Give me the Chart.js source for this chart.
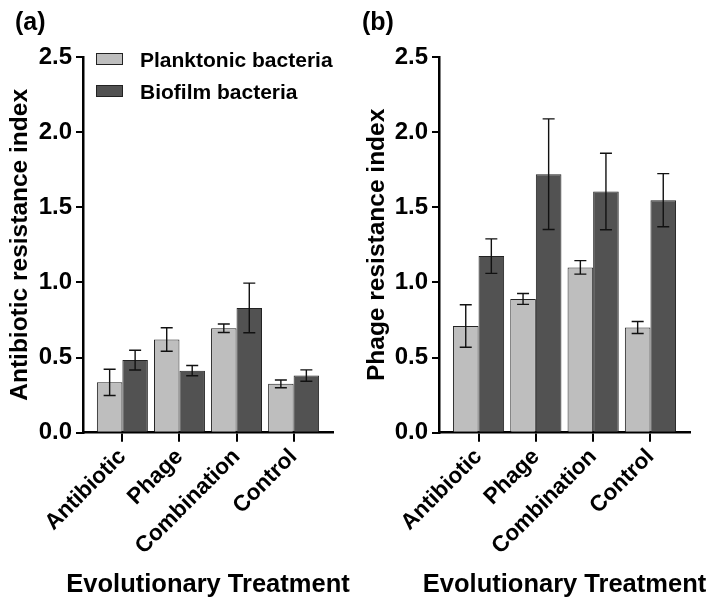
<!DOCTYPE html>
<html>
<head>
<meta charset="utf-8">
<script src="https://cdn.jsdelivr.net/npm/chart.js@4/dist/chart.umd.min.js"></script>
<style>
  body { margin: 0; background: #fff; }
  #wrap { position: relative; width: 709px; height: 601px; font-family: 'Liberation Sans', Arial, sans-serif; color: #000; }
  canvas { position: absolute; top: 0; }
  .panel { position: absolute; top: 9px; font-weight: bold; font-size: 25px; line-height: 25px; }
  .leg { position: absolute; left: 96px; font-weight: bold; font-size: 21px; line-height: 21px; }
  .leg span { display: inline-block; width: 25px; height: 10px; border: 1px solid #222; margin-right: 17px; vertical-align: 2px; }
  .xtitle { position: absolute; top: 571px; text-align: center; font-weight: bold; font-size: 25.5px; line-height: 25.5px; white-space: nowrap; }
</style>
</head>
<body>
<div id="wrap">
  <canvas id="chartA" width="355" height="601" style="left:0"></canvas>
  <canvas id="chartB" width="354" height="601" style="left:355px"></canvas>
  <div class="panel" style="left:15px">(a)</div>
  <div class="panel" style="left:362px">(b)</div>
  <div class="leg" style="top:49px"><span style="background:#bebebe"></span>Planktonic bacteria</div>
  <div class="leg" style="top:81px"><span style="background:#525252"></span>Biofilm bacteria</div>
  <div class="xtitle" style="left:0; width:416px">Evolutionary Treatment</div>
  <div class="xtitle" style="left:355px; width:419px">Evolutionary Treatment</div>
</div>
<script>
const treatments = ['Antibiotic', 'Phage', 'Combination', 'Control'];
const yTicks = [0, 0.5, 1.0, 1.5, 2.0, 2.5];

// (a) antibiotic resistance
const antiPlank = [0.335, 0.62, 0.695, 0.325];
const antiPlankErr = [0.087, 0.078, 0.028, 0.026];
const antiBio = [0.483, 0.413, 0.83, 0.38];
const antiBioErr = [0.066, 0.034, 0.165, 0.038];

// (b) phage resistance
const phagePlank = [0.71, 0.89, 1.10, 0.70];
const phagePlankErr = [0.141, 0.036, 0.045, 0.04];
const phageBio = [1.175, 1.72, 1.605, 1.547];
const phageBioErr = [0.115, 0.368, 0.255, 0.177];

const font = "'Liberation Sans', Arial, sans-serif";

// draws mean +/- error whiskers on top of each bar
const errorBars = {
    id: 'errorBars',
    afterDatasetsDraw(chart) {
        const ctx = chart.ctx;
        const y = chart.scales.y;
        ctx.save();
        ctx.strokeStyle = '#111';
        ctx.lineWidth = 1.4;
        chart.data.datasets.forEach((ds, i) => {
            chart.getDatasetMeta(i).data.forEach((bar, j) => {
                const top = y.getPixelForValue(ds.data[j] + ds.errors[j]);
                const bot = y.getPixelForValue(ds.data[j] - ds.errors[j]);
                ctx.beginPath();
                ctx.moveTo(bar.x, top); ctx.lineTo(bar.x, bot);
                ctx.moveTo(bar.x - 6, top); ctx.lineTo(bar.x + 6, top);
                ctx.moveTo(bar.x - 6, bot); ctx.lineTo(bar.x + 6, bot);
                ctx.stroke();
            });
        });
        ctx.restore();
    }
};

function makeChart(id, yTitle, plank, plankErr, bio, bioErr, yWidth, rightPad, titlePad) {
    return new Chart(document.getElementById(id), {
        type: 'bar',
        data: {
            labels: treatments,
            datasets: [
                {
                    label: 'Planktonic bacteria',
                    data: plank,
                    errors: plankErr,
                    backgroundColor: '#bebebe',
                    borderColor: '#222',
                    borderWidth: 1,
                },
                {
                    label: 'Biofilm bacteria',
                    data: bio,
                    errors: bioErr,
                    backgroundColor: '#525252',
                    borderColor: '#222',
                    borderWidth: 1,
                }
            ]
        },
        options: {
            responsive: false,
            animation: false,
            layout: { padding: { left: 0, right: rightPad, top: 57, bottom: 0 } },
            datasets: { bar: { categoryPercentage: 0.893, barPercentage: 1.0 } },
            plugins: {
                legend: { display: false },
                tooltip: { enabled: false }
            },
            scales: {
                x: {
                    // axis extends ~0.69 category beyond the outer bars
                    afterBuildTicks: (s) => { s._startValue = -0.69; s._valueRange = 4.38; },
                    afterFit: (s) => { s.height = 601 - 432.7; },
                    grid: { display: true, offset: false, drawOnChartArea: false, color: '#000', lineWidth: 2, tickLength: 9 },
                    border: { display: true, color: '#000', width: 2.5 },
                    ticks: {
                        autoSkip: false,
                        minRotation: 45,
                        maxRotation: 45,
                        padding: 2,
                        color: '#000',
                        font: { family: font, size: 22.5, weight: 'bold' }
                    }
                },
                y: {
                    min: 0,
                    max: 2.5,
                    afterFit: (s) => { s.width = yWidth; },
                    afterBuildTicks: (s) => { s.ticks = yTicks.map(v => ({ value: v })); },
                    grid: { display: true, drawOnChartArea: false, color: '#000', lineWidth: 2, tickLength: 7 },
                    border: { display: true, color: '#000', width: 2.5 },
                    ticks: {
                        padding: 4,
                        color: '#000',
                        font: { family: font, size: 24, weight: 'bold' },
                        callback: (v) => Number(v).toFixed(1)
                    },
                    title: {
                        display: true,
                        text: yTitle,
                        color: '#000',
                        padding: { top: titlePad, bottom: 0 },
                        font: { family: font, size: 24.5, weight: 'bold' }
                    }
                }
            }
        },
        plugins: [errorBars]
    });
}

makeChart('chartA', 'Antibiotic resistance index', antiPlank, antiPlankErr, antiBio, antiBioErr, 83, 22, 5.3);
makeChart('chartB', 'Phage resistance index', phagePlank, phagePlankErr, phageBio, phageBioErr, 84, 19, 7.3);
</script>
</body>
</html>
